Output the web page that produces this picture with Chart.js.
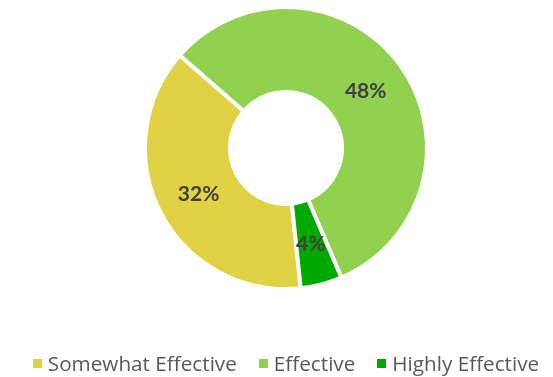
<!DOCTYPE html>
<html>
<head>
<meta charset="utf-8">
<script src="https://cdn.jsdelivr.net/npm/chart.js@4.4.1/dist/chart.umd.min.js"></script>
<style>
  html, body { margin: 0; padding: 0; background: #fff; overflow: hidden; }
  #wrap { position: relative; width: 553px; height: 377px; }
  #chartBox { position: absolute; left: 0; top: 0; width: 553px; height: 377px; }
  #legend {
    position: absolute; left: 0; top: 351px; width: 572px; height: 24px;
    display: flex; justify-content: center; align-items: center;
    font-family: "Open Sans", sans-serif; font-size: 20.7px; line-height: 24px; color: #595959;
    white-space: nowrap;
  }
  .legend-item { display: flex; align-items: center; margin-right: 22px; }
  .legend-item:last-child { margin-right: 0; }
  .legend-item span { display: inline-block; width: 9px; height: 9px; margin-right: 6px; }
</style>
</head>
<body>
<div id="wrap">
  <div id="chartBox"><canvas id="ratingChart"></canvas></div>
  <div id="legend"></div>
</div>
<script>
// ratings split (percent of respondents)
const categories = ['Somewhat Effective', 'Effective', 'Highly Effective'];
const shares = [32, 48, 4];
const sliceColors = ['#E1D145', '#92D050', '#00A800'];

// percent labels centred on each slice
const sliceLabels = {
  id: 'sliceLabels',
  afterDatasetsDraw(chart) {
    const { ctx } = chart;
    const meta = chart.getDatasetMeta(0);
    ctx.save();
    ctx.font = 'bold 21px Lato, "Open Sans", sans-serif';
    ctx.fillStyle = '#404040';
    ctx.textAlign = 'center';
    ctx.textBaseline = 'middle';
    meta.data.forEach((arc, i) => {
      const p = arc.getCenterPoint();
      ctx.fillText(shares[i] + '%', p.x, p.y + 1);
    });
    ctx.restore();
  }
};

new Chart(document.getElementById('ratingChart'), {
  type: 'doughnut',
  data: {
    labels: categories,
    datasets: [{
      data: shares,
      backgroundColor: sliceColors,
      borderColor: '#ffffff',
      borderWidth: 4,
      hoverOffset: 0
    }]
  },
  options: {
    responsive: true,
    maintainAspectRatio: false,
    animation: false,
    events: [],
    rotation: 174,
    radius: 141,
    cutout: '39.7%',
    layout: { padding: { left: 19, top: 0, right: 0, bottom: 81 } },
    plugins: {
      legend: { display: false },
      tooltip: { enabled: false }
    }
  },
  plugins: [sliceLabels]
});

// legend below the ring
const legendEl = document.getElementById('legend');
categories.forEach((name, i) => {
  const item = document.createElement('div');
  item.className = 'legend-item';
  const box = document.createElement('span');
  box.style.background = sliceColors[i];
  item.appendChild(box);
  item.appendChild(document.createTextNode(name));
  legendEl.appendChild(item);
});
</script>
</body>
</html>
